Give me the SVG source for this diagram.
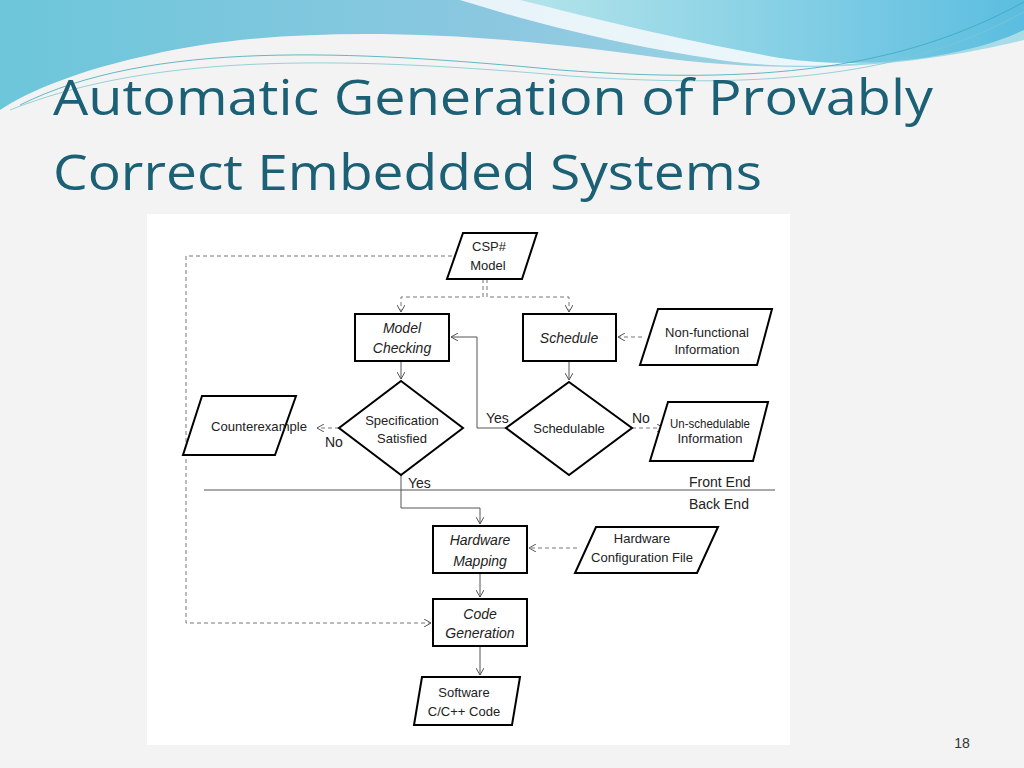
<svg xmlns="http://www.w3.org/2000/svg" width="1024" height="768" viewBox="0 0 1024 768">
<defs>
<linearGradient id="g1" x1="0" y1="0" x2="1" y2="0"><stop offset="0" stop-color="#6cc6da"/><stop offset="0.5" stop-color="#8cc8e0"/><stop offset="1" stop-color="#a9dde6"/></linearGradient>
<linearGradient id="g2" x1="0" y1="0" x2="1" y2="0"><stop offset="0" stop-color="#b4e4ea"/><stop offset="1" stop-color="#5bbde0"/></linearGradient>
<marker id="ah" markerWidth="8" markerHeight="8" refX="7" refY="4" orient="auto" markerUnits="userSpaceOnUse"><path d="M0,0 L7,4 L0,8" fill="none" stroke="#555" stroke-width="1"/></marker>
<style>
.bx{fill:#fff;stroke:#000;stroke-width:2}
.t{font-family:"Liberation Sans",Arial,sans-serif;font-size:13px;fill:#222;text-anchor:middle}
.ti{font-family:"Liberation Sans",Arial,sans-serif;font-size:14px;font-style:italic;fill:#222;text-anchor:middle}
.l{font-family:"Liberation Sans",Arial,sans-serif;font-size:14px;fill:#222}
.s{fill:none;stroke:#555;stroke-width:1}
.d{fill:none;stroke:#777;stroke-width:1;stroke-dasharray:4,3}
.h{font-family:"Open Sans","Liberation Sans",sans-serif;font-size:50px;fill:#1c6075}
</style>
</defs>
<rect width="1024" height="768" fill="#f3f3f3"/>
<path d="M0,0 H1024 V40 C900,70 780,75 640,55 C500,35 300,20 150,55 C80,70 30,90 0,110 Z" fill="url(#g1)"/>
<path d="M460,0 H1024 V20 C950,60 820,75 720,60 C620,45 540,25 460,0 Z" fill="#fff" opacity="0.8"/>
<path d="M520,0 H1024 V30 C960,60 860,70 780,58 C680,40 600,20 520,0 Z" fill="url(#g2)"/>
<path d="M20,105 C150,40 350,50 560,70 C760,85 900,70 1024,2" fill="none" stroke="#3aa9b8" stroke-width="0.8"/>
<path d="M10,110 C160,50 360,58 570,76 C770,90 910,75 1024,12" fill="none" stroke="#7cc8d0" stroke-width="0.8"/>
<text class="h" x="53" y="115" textLength="880" lengthAdjust="spacingAndGlyphs">Automatic Generation of Provably</text>
<text class="h" x="53" y="190" textLength="709" lengthAdjust="spacingAndGlyphs">Correct Embedded Systems</text>
<rect x="147" y="214" width="643" height="531" fill="#fff"/>
<g id="connectors">
<path class="d" d="M483,279 V297 H401 V312" marker-end="url(#ah)"/>
<path class="d" d="M487,279 V297 H569 V312" marker-end="url(#ah)"/>
<path class="d" d="M452,256 H186 V623 H431" marker-end="url(#ah)"/>
<path class="d" d="M642,337 H618" marker-end="url(#ah)"/>
<path class="s" d="M401,361 V379" marker-end="url(#ah)"/>
<path class="s" d="M569,361 V380" marker-end="url(#ah)"/>
<path class="d" d="M339,428 H317" marker-end="url(#ah)"/>
<path class="s" d="M506,428 H477 V337 H451" marker-end="url(#ah)"/>
<path class="d" d="M632,428 H664" marker-end="url(#ah)"/>
<path class="s" d="M401,475 V508 H480 V524" marker-end="url(#ah)"/>
<path class="d" d="M577,548 H529" marker-end="url(#ah)"/>
<path class="s" d="M480,573 V597" marker-end="url(#ah)"/>
<path class="s" d="M480,646 V675" marker-end="url(#ah)"/>
<line x1="204" y1="490" x2="775" y2="490" stroke="#555" stroke-width="1"/>
</g>
<g id="csp"><polygon class="bx" points="463,233 537,233 522,279 447,279"/><text class="t" x="489" y="251">CSP#</text><text class="t" x="488" y="270">Model</text></g>
<g id="mc"><rect class="bx" x="355" y="314" width="94" height="47"/><text class="ti" x="402" y="333">Model</text><text class="ti" x="402" y="353">Checking</text></g>
<g id="sched"><rect class="bx" x="523" y="314" width="93" height="47"/><text class="ti" x="569" y="343">Schedule</text></g>
<g id="nfi"><polygon class="bx" points="658,309 772,309 757,365 640,365"/><text class="t" x="707" y="337">Non-functional</text><text class="t" x="707" y="354">Information</text></g>
<g id="spec"><polygon class="bx" points="401,381 463,428 401,475 339,428"/><text class="t" x="402" y="425">Specification</text><text class="t" x="402" y="443">Satisfied</text></g>
<g id="schedulable"><polygon class="bx" points="569,382 632,428 569,475 506,428"/><text class="t" x="569" y="433">Schedulable</text></g>
<g id="cex"><polygon class="bx" points="202,396 296,396 275,455 183,455"/><text class="t" x="259" y="431" font-size="12" textLength="96" lengthAdjust="spacingAndGlyphs">Counterexample</text></g>
<g id="unsched"><polygon class="bx" points="668,402 768,402 753,461 650,461"/><text class="t" x="710" y="428" font-size="11" textLength="80" lengthAdjust="spacingAndGlyphs">Un-schedulable</text><text class="t" x="710" y="443" font-size="11">Information</text></g>
<g id="hm"><rect class="bx" x="433" y="526" width="94" height="47"/><text class="ti" x="480" y="545">Hardware</text><text class="ti" x="480" y="566">Mapping</text></g>
<g id="hcf"><polygon class="bx" points="596,527 718,527 697,573 575,573"/><text class="t" x="642" y="543">Hardware</text><text class="t" x="642" y="562">Configuration File</text></g>
<g id="cg"><rect class="bx" x="433" y="599" width="94" height="47"/><text class="ti" x="480" y="619">Code</text><text class="ti" x="480" y="638">Generation</text></g>
<g id="sw"><polygon class="bx" points="422,677 520,677 512,725 414,725"/><text class="t" x="464" y="697">Software</text><text class="t" x="464" y="716">C/C++ Code</text></g>
<g id="labels">
<text class="l" x="325" y="447">No</text>
<text class="l" x="486" y="423">Yes</text>
<text class="l" x="632" y="423">No</text>
<text class="l" x="408" y="488">Yes</text>
<text class="l" x="689" y="487">Front End</text>
<text class="l" x="689" y="509">Back End</text>
</g>
<text x="962" y="748" font-family="Liberation Sans,Arial,sans-serif" font-size="14" fill="#333" text-anchor="middle">18</text>
</svg>
